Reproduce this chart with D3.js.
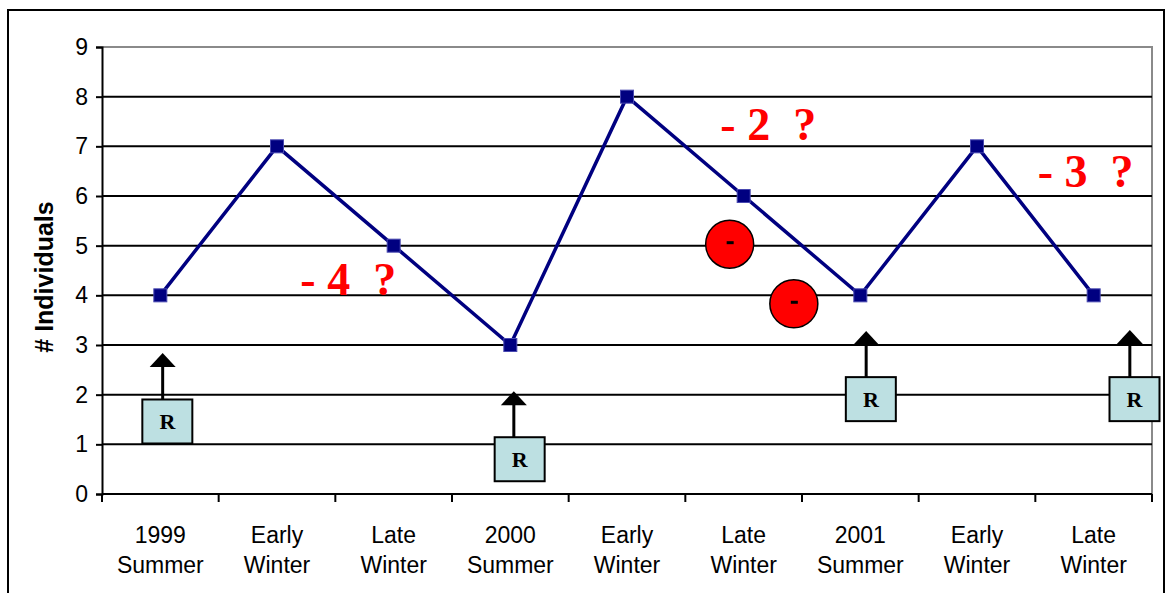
<!DOCTYPE html>
<html>
<head>
<meta charset="utf-8">
<script src="https://cdn.jsdelivr.net/npm/d3@7"></script>
<style>
  body { margin: 0; background: #fff; }
  svg { display: block; }
</style>
</head>
<body>
<div class="chart"></div>
<script>
// categories (two text lines each) and counts
const categories = ["1999|Summer", "Early|Winter", "Late|Winter", "2000|Summer", "Early|Winter", "Late|Winter", "2001|Summer", "Early|Winter", "Late|Winter"]
const individuals = [4, 7, 5, 3, 8, 6, 4, 7, 4]
const yTicks = [0, 1, 2, 3, 4, 5, 6, 7, 8, 9]

// annotations, placed in category-index / value units
const lossLabels = ["- 4  ?", "- 2  ?", "- 3  ?"]
const lossAt = [[1.20, 4.01], [4.80, 7.13], [7.52, 6.18]]
const removals = [[4.88, 5.03], [5.43, 3.83]]
const recruitBox = [[0.06, 1.46], [3.08, 0.70], [6.09, 1.91], [8.35, 1.91]]
const recruitArrow = [[0.02, 2.84], [3.03, 2.07], [6.05, 3.28], [8.31, 3.30]]

var width = 1167
var height = 593
var plot = { left: 102, top: 47, right: 1152, bottom: 494 }

var svg = d3.select('.chart')
    .append('svg')
    .attr('width', width)
    .attr('height', height)

// outer frame
svg.append('rect')
    .attr('x', 8).attr('y', 10)
    .attr('width', 1156).attr('height', 600)
    .attr('fill', 'none')
    .attr('stroke', '#000')
    .attr('stroke-width', 2)

var x = d3.scaleBand()
    .domain(d3.range(categories.length))
    .range([plot.left, plot.right])
    .padding(0)

var y = d3.scaleLinear().domain([0, 9]).range([plot.bottom, plot.top])

// index -> pixel centre of band
const xPos = (t) => plot.left + (t + 0.5) * x.bandwidth()

// plot border (grey top / right)
svg.append('path')
    .attr('d', `M${plot.left},${y(9)}H${plot.right}V${plot.bottom}`)
    .attr('fill', 'none')
    .attr('stroke', '#8a8a8a')
    .attr('stroke-width', 2)

// gridlines
svg.append('g')
    .selectAll('line')
    .data(yTicks.filter(d => d > 0 && d < 9))
    .enter()
    .append('line')
    .attr('x1', plot.left).attr('x2', plot.right)
    .attr('y1', d => y(d)).attr('y2', d => y(d))
    .attr('stroke', '#000')
    .attr('stroke-width', 2)

// y axis
const yAxis = d3.axisLeft(y).tickValues(yTicks).tickSize(6).tickPadding(8)
var gy = svg.append('g')
    .attr('transform', `translate(${plot.left},0)`)
    .call(yAxis)
gy.select('.domain').attr('stroke-width', 2)
gy.selectAll('.tick line').attr('stroke-width', 2)
gy.selectAll('text')
    .attr('font-family', 'Liberation Sans, Arial, sans-serif')
    .attr('font-size', 23)
    .attr('fill', '#000')

// x axis: ticks on band edges, labels centred in bands
var gx = svg.append('g')
    .attr('transform', `translate(0,${plot.bottom})`)
gx.append('line')
    .attr('x1', plot.left).attr('x2', plot.right)
    .attr('stroke', '#000').attr('stroke-width', 2)
gx.selectAll('.edge')
    .data(d3.range(categories.length + 1))
    .enter()
    .append('line')
    .attr('class', 'edge')
    .attr('x1', d => plot.left + d * x.bandwidth())
    .attr('x2', d => plot.left + d * x.bandwidth())
    .attr('y1', 0).attr('y2', 8)
    .attr('stroke', '#000').attr('stroke-width', 2)

var labels = gx.selectAll('.lab')
    .data(categories)
    .enter()
    .append('text')
    .attr('class', 'lab')
    .attr('text-anchor', 'middle')
    .attr('font-family', 'Liberation Sans, Arial, sans-serif')
    .attr('font-size', 23)
    .attr('fill', '#000')
labels.selectAll('tspan')
    .data((d, i) => d.split('|').map(s => [s, i]))
    .enter()
    .append('tspan')
    .attr('x', d => x(d[1]) + x.bandwidth() / 2)
    .attr('y', (d, j) => 49 + j * 30)
    .text(d => d[0])

// y title
svg.append('text')
    .attr('transform', `translate(53, 277) rotate(-90)`)
    .attr('text-anchor', 'middle')
    .attr('font-family', 'Liberation Sans, Arial, sans-serif')
    .attr('font-weight', 'bold')
    .attr('font-size', 25)
    .text('# Individuals')

// series line
let line = d3.line()
    .x((d, i) => xPos(i))
    .y(d => y(d))

svg.append('path')
    .datum(individuals)
    .attr('d', line)
    .attr('fill', 'none')
    .attr('stroke', '#000080')
    .attr('stroke-width', 3.5)

svg.append('g')
    .selectAll('rect')
    .data(individuals)
    .enter()
    .append('rect')
    .attr('x', (d, i) => xPos(i) - 6.5)
    .attr('y', d => y(d) - 6.5)
    .attr('width', 13).attr('height', 13)
    .attr('fill', '#000080')
    .attr('stroke', '#4848b0')
    .attr('stroke-width', 1)

// "- n ?" labels
svg.append('g')
    .selectAll('text')
    .data(lossLabels)
    .enter()
    .append('text')
    .attr('x', (d, i) => xPos(lossAt[i][0]))
    .attr('y', (d, i) => y(lossAt[i][1]))
    .attr('font-family', 'Liberation Serif, Times New Roman, serif')
    .attr('font-weight', 'bold')
    .attr('font-size', 46)
    .attr('fill', '#ff0000')
    .style('white-space', 'pre')
    .text(d => d)

// red removal circles
var circ = svg.append('g')
    .selectAll('g')
    .data(removals)
    .enter()
    .append('g')
    .attr('transform', d => `translate(${xPos(d[0])},${y(d[1])})`)
circ.append('circle')
    .attr('r', 24)
    .attr('fill', '#ff0000')
    .attr('stroke', '#000')
    .attr('stroke-width', 1.5)
circ.append('rect')
    .attr('x', -3).attr('y', -3)
    .attr('width', 7).attr('height', 3)
    .attr('fill', '#000')

// recruitment arrows and boxes
var rec = svg.append('g')
    .selectAll('g')
    .data(recruitBox)
    .enter()
    .append('g')
rec.append('line')
    .attr('x1', (d, i) => xPos(recruitArrow[i][0]))
    .attr('x2', (d, i) => xPos(recruitArrow[i][0]))
    .attr('y1', d => y(d[1]) - 21)
    .attr('y2', (d, i) => y(recruitArrow[i][1]) + 12)
    .attr('stroke', '#000')
    .attr('stroke-width', 3)
rec.append('path')
    .attr('d', (d, i) => {
        const ax = xPos(recruitArrow[i][0])
        const ay = y(recruitArrow[i][1])
        return `M${ax},${ay}L${ax + 13},${ay + 14}L${ax - 13},${ay + 14}Z`
    })
    .attr('fill', '#000')
rec.append('rect')
    .attr('x', d => xPos(d[0]) - 25)
    .attr('y', d => y(d[1]) - 22)
    .attr('width', 50).attr('height', 44)
    .attr('fill', '#bde0e2')
    .attr('stroke', '#000')
    .attr('stroke-width', 2)
rec.append('text')
    .attr('x', d => xPos(d[0]))
    .attr('y', d => y(d[1]) + 8)
    .attr('text-anchor', 'middle')
    .attr('font-family', 'Liberation Serif, Times New Roman, serif')
    .attr('font-weight', 'bold')
    .attr('font-size', 22)
    .text('R')
</script>
</body>
</html>
